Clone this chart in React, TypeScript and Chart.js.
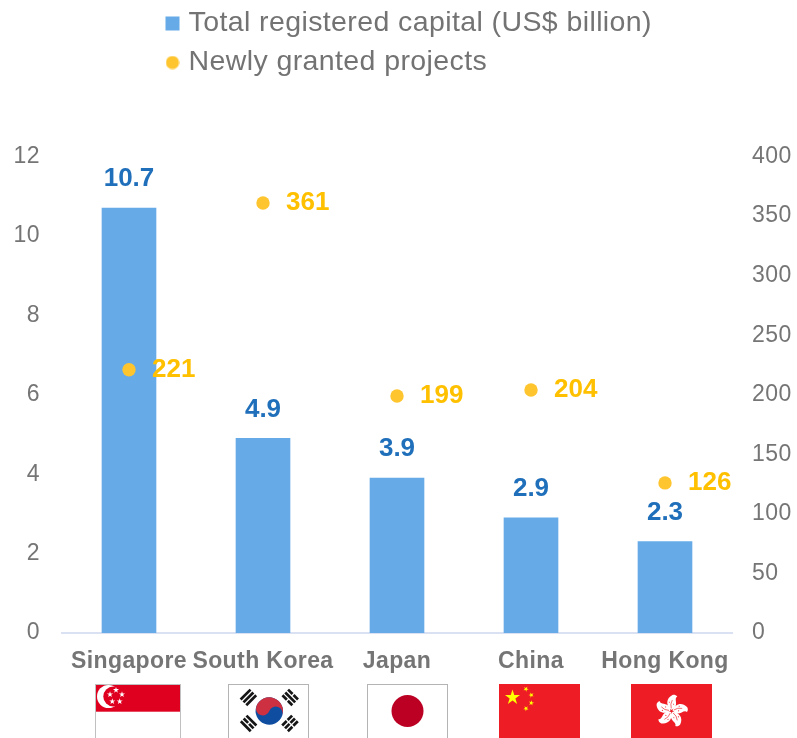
import React, { useEffect, useRef } from "react";
import { Chart, registerables } from "chart.js";

Chart.register(...registerables);

const categories = ["Singapore", "South Korea", "Japan", "China", "Hong Kong"];
const capital = [10.7, 4.9, 3.9, 2.9, 2.3];
const projects = [221, 361, 199, 204, 126];
const capitalLabel = "Total registered capital (US$ billion)";
const projectsLabel = "Newly granted projects";
const flagOffsets = [9, 5.5, 10.5, 8.5, 6.5];
const flagWidths = [86, 81, 81, 81, 81];

const FONT = "'Liberation Sans', Arial, sans-serif";
const BLUE = "#66abe8";
const GOLD = "#ffc52f";
const LABEL_GOLD = "#ffc000";
const LABEL_BLUE = "#1f6fba";
const GREY = "#757575";

function star(ctx: CanvasRenderingContext2D, x: number, y: number, r: number, fill: string, rot = 0) {
  ctx.save();
  ctx.translate(x, y);
  ctx.rotate(rot);
  ctx.fillStyle = fill;
  ctx.beginPath();
  for (let i = 0; i < 10; i++) {
    const a = -Math.PI / 2 + (i * Math.PI) / 5;
    const rr = i % 2 === 0 ? r : r * 0.382;
    ctx.lineTo(Math.cos(a) * rr, Math.sin(a) * rr);
  }
  ctx.closePath();
  ctx.fill();
  ctx.restore();
}

function frame(ctx: CanvasRenderingContext2D, x: number, y: number, w: number, h: number, c: string) {
  ctx.strokeStyle = c;
  ctx.lineWidth = 1;
  ctx.strokeRect(x + 0.5, y + 0.5, w - 1, h);
}

function drawSingapore(ctx: CanvasRenderingContext2D, x: number, y: number, w: number, h: number) {
  ctx.fillStyle = "#fff";
  ctx.fillRect(x, y, w, h);
  ctx.fillStyle = "#df0020";
  ctx.fillRect(x, y, w, 27.7);
  frame(ctx, x, y, w, h, "#c0c0c0");
  ctx.fillStyle = "#fff";
  const cx = x + 13.5;
  const cy = y + 12.5;
  ctx.beginPath();
  ctx.arc(cx, cy, 11.5, 0, Math.PI * 2);
  ctx.fill();
  ctx.fillStyle = "#df0020";
  ctx.beginPath();
  ctx.arc(cx + 4.8, cy, 10, 0, Math.PI * 2);
  ctx.fill();
  for (let i = 0; i < 5; i++) {
    const a = -Math.PI / 2 + (i * 2 * Math.PI) / 5;
    star(ctx, x + 21 + Math.cos(a) * 6.3, y + 12.4 + Math.sin(a) * 6.3, 3.2, "#fff");
  }
}

function trigram(ctx: CanvasRenderingContext2D, cx: number, cy: number, rot: number, breaks: boolean[]) {
  ctx.save();
  ctx.translate(cx, cy);
  ctx.rotate(rot);
  ctx.fillStyle = "#151515";
  breaks.forEach((b, i) => {
    const yy = -5.5 + i * 4;
    if (b) {
      ctx.fillRect(-7, yy, 6.3, 2.7);
      ctx.fillRect(0.7, yy, 6.3, 2.7);
    } else {
      ctx.fillRect(-7, yy, 14, 2.7);
    }
  });
  ctx.restore();
}

function drawKorea(ctx: CanvasRenderingContext2D, x: number, y: number, w: number, h: number) {
  ctx.fillStyle = "#fff";
  ctx.fillRect(x, y, w, h);
  frame(ctx, x, y, w, h, "#b4b4b4");
  const cx = x + w / 2 + 0.8;
  const cy = y + 27;
  const r = 13.7;
  ctx.save();
  ctx.translate(cx, cy);
  ctx.rotate(0.35);
  ctx.fillStyle = "#0f4da0";
  ctx.beginPath();
  ctx.arc(0, 0, r, 0, Math.PI * 2);
  ctx.fill();
  ctx.fillStyle = "#cd3040";
  ctx.beginPath();
  ctx.arc(0, 0, r, Math.PI, 0);
  ctx.arc(r / 2, 0, r / 2, 0, Math.PI, true);
  ctx.arc(-r / 2, 0, r / 2, 0, Math.PI);
  ctx.closePath();
  ctx.fill();
  ctx.restore();
  const dx = 20.8;
  trigram(ctx, cx - dx, cy - 13.5, -Math.PI / 4, [false, false, false]);
  trigram(ctx, cx + dx, cy - 13.5, Math.PI / 4, [true, false, true]);
  trigram(ctx, cx - dx, cy + 12.5, Math.PI / 4, [false, true, false]);
  trigram(ctx, cx + dx, cy + 12.5, -Math.PI / 4, [true, true, true]);
}

function drawJapan(ctx: CanvasRenderingContext2D, x: number, y: number, w: number, h: number) {
  ctx.fillStyle = "#fff";
  ctx.fillRect(x, y, w, h);
  frame(ctx, x, y, w, h, "#b4b4b4");
  ctx.fillStyle = "#bc0024";
  ctx.beginPath();
  ctx.arc(x + w / 2, y + 27, 16, 0, Math.PI * 2);
  ctx.fill();
}

function drawChina(ctx: CanvasRenderingContext2D, x: number, y: number, w: number, h: number) {
  ctx.fillStyle = "#ee1c25";
  ctx.fillRect(x, y, w, h);
  star(ctx, x + 13.5, y + 13.5, 7.9, "#ffff00");
  star(ctx, x + 27, y + 5, 2.8, "#ffff00", 0.5);
  star(ctx, x + 32.3, y + 11, 2.8, "#ffff00", 0.9);
  star(ctx, x + 32.3, y + 19, 2.8, "#ffff00", 0.2);
  star(ctx, x + 27, y + 24.5, 2.8, "#ffff00", 0.7);
}

function drawHongKong(ctx: CanvasRenderingContext2D, x: number, y: number, w: number, h: number) {
  ctx.fillStyle = "#ee1c25";
  ctx.fillRect(x, y, w, h);
  const cx = x + w / 2;
  const cy = y + 27;
  for (let i = 0; i < 5; i++) {
    ctx.save();
    ctx.translate(cx, cy);
    ctx.rotate((i * 2 * Math.PI) / 5 + 0.12);
    ctx.fillStyle = "#fff";
    ctx.beginPath();
    ctx.moveTo(-0.5, -1);
    ctx.bezierCurveTo(-6.5, -5, -7, -12, -1, -16);
    ctx.bezierCurveTo(0.5, -16.8, 2.5, -16.5, 4, -15);
    ctx.bezierCurveTo(0.5, -12.5, 6, -8, 2.6, -3);
    ctx.closePath();
    ctx.fill();
    ctx.strokeStyle = "#ee1c25";
    ctx.lineWidth = 0.6;
    ctx.beginPath();
    ctx.moveTo(-0.5, -2.5);
    ctx.quadraticCurveTo(-2.4, -6.5, -0.5, -11);
    ctx.stroke();
    star(ctx, -3.2, -8.5, 0.9, "#ee1c25");
    star(ctx, 1.2, -7, 0.9, "#ee1c25");
    ctx.restore();
  }
}

const flagPainters = [drawSingapore, drawKorea, drawJapan, drawChina, drawHongKong];

const annotations = {
  id: "annotations",
  afterLayout(chart: any) {
    chart.legend.left = 160.25;
    chart.legend.right = 700;
    chart.legend.top = -1.25;
  },
  beforeDraw(chart: any) {
    chart.ctx.letterSpacing = "0.4px";
  },
  afterDraw(chart: any) {
    const { ctx } = chart;
    ctx.letterSpacing = "0px";
    const bars = chart.getDatasetMeta(0).data;
    const points = chart.getDatasetMeta(1).data;
    ctx.save();
    ctx.font = `bold 26px ${FONT}`;
    ctx.textBaseline = "middle";
    ctx.textAlign = "center";
    ctx.fillStyle = LABEL_BLUE;
    capital.forEach((v, i) => ctx.fillText(v.toFixed(1), bars[i].x, bars[i].y - 29));
    ctx.textAlign = "left";
    ctx.fillStyle = LABEL_GOLD;
    projects.forEach((v, i) => ctx.fillText(String(v), points[i].x + 23, points[i].y));
    ctx.restore();
    const xScale = chart.scales.x;
    categories.forEach((_, i) => {
      const w = flagWidths[i];
      const fx = xScale.getPixelForTick(i) + flagOffsets[i] - w / 2;
      ctx.save();
      flagPainters[i](ctx, fx, 684, w, 54);
      ctx.restore();
    });
  },
};

export default function App() {
  const ref = useRef<HTMLCanvasElement>(null);
  useEffect(() => {
    const dot = document.createElement("canvas");
    dot.width = 14;
    dot.height = 14;
    const d = dot.getContext("2d")!;
    d.fillStyle = GOLD;
    d.beginPath();
    d.arc(7, 7, 6.6, 0, Math.PI * 2);
    d.fill();

    const chart = new Chart(ref.current!, {
      data: {
        labels: categories,
        datasets: [
          {
            type: "bar",
            label: capitalLabel,
            data: capital,
            backgroundColor: BLUE,
            barThickness: 54,
            yAxisID: "y",
            order: 2,
          },
          {
            type: "line",
            label: projectsLabel,
            data: projects,
            showLine: false,
            pointRadius: 6.7,
            pointBorderWidth: 0,
            pointBackgroundColor: GOLD,
            pointBorderColor: GOLD,
            backgroundColor: GOLD,
            yAxisID: "y1",
            order: 1,
          },
        ],
      },
      options: {
        responsive: false,
        animation: false,
        layout: { padding: { top: 68.5, left: 0, right: 0, bottom: 0 } },
        plugins: {
          tooltip: { enabled: false },
          legend: {
            display: true,
            position: "top",
            align: "start",
            maxWidth: 540,
            labels: {
              usePointStyle: true,
              boxWidth: 3.5,
              boxHeight: 14,
              padding: 10.5,
              color: "#737373",
              font: { family: FONT, size: 28.5 },
              sort: (a: any, b: any) => a.datasetIndex - b.datasetIndex,
              generateLabels(c: any) {
                const items = Chart.defaults.plugins.legend.labels.generateLabels(c);
                return items.map((it: any) => ({
                  ...it,
                  pointStyle: it.datasetIndex === 0 ? "rect" : dot,
                  fillStyle: it.datasetIndex === 0 ? BLUE : GOLD,
                  strokeStyle: it.datasetIndex === 0 ? BLUE : GOLD,
                  lineWidth: 0,
                }));
              },
            },
          },
        },
        scales: {
          x: {
            afterFit(s: any) {
              s.height = 105;
            },
            grid: { display: false, drawTicks: false },
            border: { color: "#d9e1f2", width: 2 },
            ticks: {
              autoSkip: false,
              maxRotation: 0,
              padding: 15,
              color: GREY,
              font: { family: FONT, size: 23, weight: "bold" },
            },
          },
          y: {
            position: "left",
            min: 0,
            max: 12,
            afterFit(s: any) {
              s.width = 62;
            },
            grid: { display: false, drawTicks: false },
            border: { display: false },
            ticks: { stepSize: 2, padding: 22, color: GREY, font: { family: FONT, size: 23 } },
          },
          y1: {
            position: "right",
            min: 0,
            max: 400,
            afterFit(s: any) {
              s.width = 65;
            },
            grid: { display: false, drawTicks: false },
            border: { display: false },
            ticks: { stepSize: 50, padding: 20, color: GREY, font: { family: FONT, size: 23 } },
          },
        },
      },
      plugins: [annotations],
    } as any);
    return () => chart.destroy();
  }, []);
  return (
    <div style={{ position: "absolute", left: 0, top: 0, width: 797, height: 738, background: "#fff" }}>
      <canvas ref={ref} width={797} height={738} style={{ display: "block" }} />
    </div>
  );
}
